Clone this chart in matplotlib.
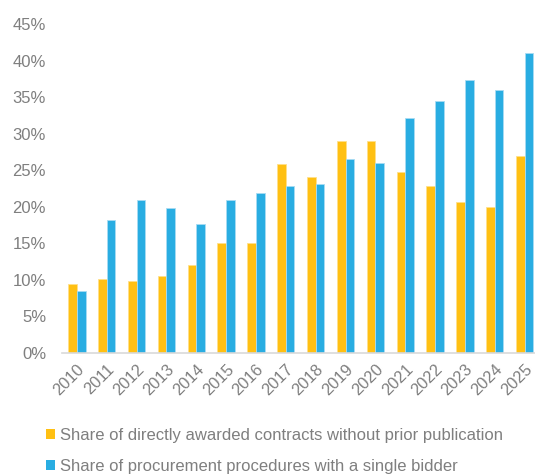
import numpy as np
import matplotlib
matplotlib.use('Agg')
import matplotlib.pyplot as plt
from matplotlib.transforms import ScaledTranslation

years = [str(y) for y in range(2010, 2026)]
direct_award = [9.4, 10.1, 9.9, 10.5, 12.0, 15.1, 15.0, 25.8,
                24.1, 29.0, 29.0, 24.8, 22.8, 20.6, 20.0, 27.0]
single_bidder = [8.5, 18.2, 20.9, 19.9, 17.6, 20.9, 21.9, 22.9,
                 23.1, 26.6, 26.0, 32.2, 34.4, 37.3, 36.0, 41.1]
labels = ['Share of directly awarded contracts without prior publication',
          'Share of procurement procedures with a single bidder']

plt.rcParams['font.family'] = ['Liberation Sans', 'DejaVu Sans']
grey = '#7f7f7f'

fig = plt.figure(figsize=(5.35, 4.75), dpi=100)
ax = fig.add_axes([62 / 535, 1 - 353 / 475, 1 - 62 / 535, (353 - 24) / 475])

x = np.arange(len(years))
w = 0.29
ax.bar(x - w / 2, direct_award, w, color='#ffc013', edgecolor='#ffe08a',
       linewidth=0.6, label=labels[0])
ax.bar(x + w / 2, single_bidder, w, color='#29ade2', edgecolor='#a8dcf3',
       linewidth=0.6, label=labels[1])

ax.set_ylim(0, 45)
ax.set_xlim(-0.5, 15.35)
ax.set_yticks(np.arange(0, 46, 5))
ax.set_yticklabels([f'{v}%' for v in range(0, 46, 5)], fontsize=12)
ax.set_xticks(x)
ax.set_xticklabels(years, rotation=45, ha='right', rotation_mode='anchor',
                   fontsize=11.8)
shift = ScaledTranslation(-5 / 100, -7 / 100, fig.dpi_scale_trans)
for lab in ax.get_xticklabels():
    lab.set_transform(lab.get_transform() + shift)
ax.tick_params(axis='both', length=0, colors=grey)
ax.tick_params(axis='y', pad=11.5)
ax.tick_params(axis='x', pad=6)
for s in ['top', 'right', 'left']:
    ax.spines[s].set_visible(False)
ax.spines['bottom'].set_color('#d9d9d9')
ax.spines['bottom'].set_linewidth(1.2)

leg = fig.legend(loc='upper left', bbox_to_anchor=(31 / 535, 1 - 413 / 475),
                 frameon=False, fontsize=12, handlelength=0.55,
                 handleheight=0.55, handletextpad=0.3, labelspacing=0.95)
for t in leg.get_texts():
    t.set_color(grey)
for h in leg.legend_handles:
    h.set_edgecolor('none')

fig.savefig('out.png', dpi=100)
